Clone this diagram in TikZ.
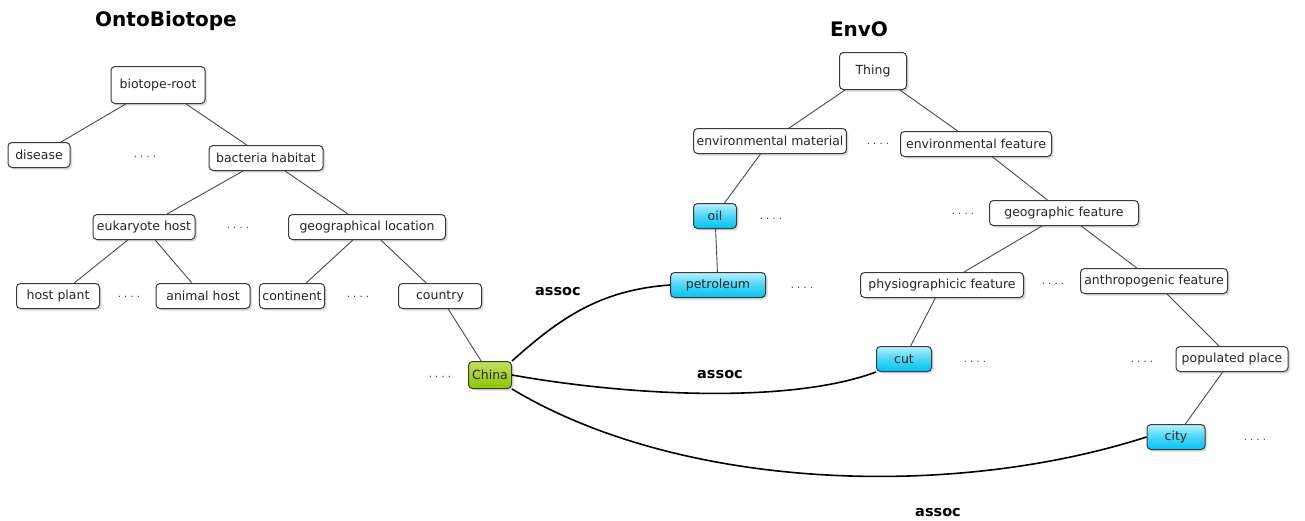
\documentclass[tikz,border=0pt]{standalone}
\usepackage{fontspec}
\setmainfont{DejaVu Sans}
\usetikzlibrary{shadows}

\definecolor{edgegray}{HTML}{4A4A4A}
\definecolor{boxgray}{HTML}{3A3A3A}
\definecolor{skytop}{HTML}{B8F0FF}
\definecolor{skybottom}{HTML}{00C4F0}
\definecolor{limetop}{HTML}{C4E060}
\definecolor{limebottom}{HTML}{8CC400}

\tikzset{
	concept/.style = {rectangle, rounded corners = 4pt, draw = boxgray,
		line width = 1pt, fill = white, inner xsep = 3pt,
		minimum height = 25pt, font = \fontsize{12.5}{15}\selectfont,
		text = black!85,
		drop shadow = {opacity = 0.3, shadow xshift = 2pt, shadow yshift = -2pt}},
	rootbox/.style = {concept, minimum height = 37pt},
	matched/.style = {concept, top color = skytop, bottom color = skybottom,
		middle color = skybottom!60!skytop},
	anchorbox/.style = {concept, top color = limetop, bottom color = limebottom},
	more/.style = {font = \fontsize{10}{12}\selectfont, inner sep = 0pt, text = black!80},
	branch/.style = {draw = edgegray, line width = 0.9pt},
	link/.style = {draw = black, line width = 1.6pt},
	heading/.style = {font = \fontsize{20}{24}\selectfont\bfseries},
	relname/.style = {font = \fontsize{14.5}{17}\selectfont\bfseries}
}

\begin{document}
\begin{tikzpicture}[x = 1pt, y = -1pt]
\useasboundingbox (0,0) rectangle (1305,520);

% titles
\node[heading] (tob) at (166,21) {OntoBiotope};
\node[heading] (tenvo) at (859,29) {EnvO};

% OntoBiotope tree
\node[rootbox, minimum width = 94pt] (broot) at (158,85) {biotope-root};
\node[concept, minimum width = 62pt] (disease) at (39,155) {disease};
\node[more] (m1) at (145,157) {.\ .\ .\ .};
\node[concept, minimum width = 114pt] (bhab) at (266,158) {bacteria habitat};
\node[concept, minimum width = 102pt] (euk) at (144,227) {eukaryote host};
\node[more] (m2) at (238,228) {.\ .\ .\ .};
\node[concept, minimum width = 157pt] (geoloc) at (367,227) {geographical location};
\node[concept, minimum width = 83pt] (hplant) at (58,296) {host plant};
\node[more] (m3) at (129,297) {.\ .\ .\ .};
\node[concept, minimum width = 94pt] (ahost) at (203,296) {animal host};
\node[concept, minimum width = 64pt] (cont) at (292,296) {continent};
\node[more] (m4) at (358,297) {.\ .\ .\ .};
\node[concept, minimum width = 83pt] (country) at (440,296) {country};
\node[anchorbox, minimum width = 43pt, minimum height = 27pt] (china) at (490,375) {China};
\node[more] (m5) at (440,377) {.\ .\ .\ .};

\draw[branch] (broot) -- (disease);
\draw[branch] (broot) -- (bhab);
\draw[branch] (bhab) -- (euk);
\draw[branch] (bhab) -- (geoloc);
\draw[branch] (euk) -- (hplant);
\draw[branch] (euk) -- (ahost);
\draw[branch] (geoloc) -- (cont);
\draw[branch] (geoloc) -- (country);
\draw[branch] (country) -- (china);

% EnvO tree
\node[rootbox, minimum width = 67pt] (thing) at (873,71) {Thing};
\node[concept, minimum width = 152pt] (envmat) at (770,141) {environmental material};
\node[more] (m6) at (878,144) {.\ .\ .\ .};
\node[concept, minimum width = 151pt] (envfeat) at (976,144) {environmental feature};
\node[matched, minimum width = 43pt] (oil) at (715,216) {oil};
\node[more] (m7) at (771,219) {.\ .\ .\ .};
\node[more] (m8) at (963,214) {.\ .\ .\ .};
\node[concept, minimum width = 149pt] (geofeat) at (1064,213) {geographic feature};
\node[matched, minimum width = 95pt] (petrol) at (718,285) {petroleum};
\node[more] (m9) at (802,288) {.\ .\ .\ .};
\node[concept, minimum width = 163pt] (physio) at (942,285) {physiographicic feature};
\node[more] (m10) at (1053,284) {.\ .\ .\ .};
\node[concept, minimum width = 147pt] (anthro) at (1154,281) {anthropogenic feature};
\node[matched, minimum width = 55pt] (cut) at (904,359) {cut};
\node[more] (m11) at (975,362) {.\ .\ .\ .};
\node[more] (m12) at (1142,362) {.\ .\ .\ .};
\node[concept, minimum width = 112pt] (popplace) at (1232,359) {populated place};
\node[matched, minimum width = 58pt] (city) at (1176,437) {city};
\node[more] (m13) at (1255,440) {.\ .\ .\ .};

\draw[branch] (thing) -- (envmat);
\draw[branch] (thing) -- (envfeat);
\draw[branch] (envmat) -- (oil);
\draw[branch] (oil) -- (petrol);
\draw[branch] (envfeat) -- (geofeat);
\draw[branch] (geofeat) -- (physio);
\draw[branch] (geofeat) -- (anthro);
\draw[branch] (physio) -- (cut);
\draw[branch] (anthro) -- (popplace);
\draw[branch] (popplace) -- (city);

% associations
\draw[link] (china.north east) .. controls (560,318) and (600,290) .. (petrol.west);
\draw[link] (china.east) .. controls (630,396) and (790,404) .. (cut.south west);
\draw[link] (china.south east) .. controls (680,490) and (950,500) .. (city.west);
\node[relname] (as1) at (558,292) {assoc};
\node[relname] (as2) at (720,375) {assoc};
\node[relname] (as3) at (938,513) {assoc};
\end{tikzpicture}
\end{document}
